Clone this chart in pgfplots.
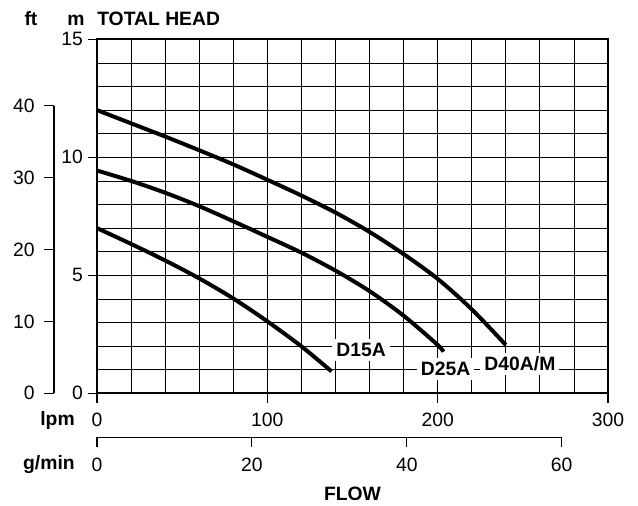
\documentclass[border=0pt]{standalone}
\usepackage{fontspec}
\setmainfont{Liberation Sans}
\usepackage{pgfplots}
\pgfplotsset{compat=1.18}
\begin{document}
\begin{tikzpicture}[x=1pt,y=1pt]
\begin{axis}[
  at={(0,0)}, anchor=south west,
  scale only axis, width=383.25pt, height=265.5pt,
  xmin=0,xmax=300,ymin=0,ymax=15,
  xtick={0,100,200,300}, ytick={0,5,10,15},
  minor xtick={0,20,...,300}, minor ytick={0,1,...,15},
  grid=minor, minor grid style={black, line width=0.6pt},
  major grid style={draw=none},
  major tick length=7pt, minor tick length=0pt,
  tick align=outside, xtick pos=bottom, ytick pos=left,
  tick style={black,line width=0.8pt},
  axis line style={line width=1.4pt},
  ticklabel style={font=\fontsize{14.5}{16}\selectfont},
  xticklabel style={yshift=-4.5pt},
  /pgf/number format/assume math mode=true,
  clip=false,
]
\addplot[black, line width=3pt, smooth, tension=0.5] coordinates {
(0,12.0)(20,11.44)(40,10.88)(60,10.3)(80,9.7)(100,9.05)(120,8.38)(140,7.66)(160,6.84)(180,5.9)(200,4.85)(220,3.56)(240,2.05)};
\addplot[black, line width=3pt, smooth, tension=0.5] coordinates {
(0,9.44)(20,9.0)(40,8.5)(60,7.93)(80,7.29)(100,6.63)(120,5.96)(140,5.2)(160,4.33)(180,3.29)(200,2.05)(203.3,1.76)};
\addplot[black, line width=3pt, smooth, tension=0.5] coordinates {
(0,7.0)(20,6.33)(40,5.63)(60,4.87)(80,4.02)(100,3.05)(120,1.99)(137.7,0.93)};
\node[fill=white, inner sep=3pt, font=\bfseries\fontsize{14.5}{16}\selectfont] at (axis cs:155,1.83) {D15A};
\node[fill=white, inner sep=3pt, font=\bfseries\fontsize{14.5}{16}\selectfont] at (axis cs:204.7,1.03) {D25A};
\node[fill=white, inner sep=3pt, font=\bfseries\fontsize{14.5}{16}\selectfont] at (axis cs:248.3,1.24) {D40A/M};
\end{axis}
% ft scale
\begin{axis}[
  at={(-32.25pt,0)}, anchor=south west,
  scale only axis, width=1pt, height=215.8pt,
  xmin=0,xmax=1,ymin=0,ymax=40,
  axis x line=none, axis y line=left,
  axis line style={line width=0.8pt,-},
  ytick={0,10,20,30,40},
  tick align=outside, major tick length=7.5pt,
  tick style={black,line width=0.8pt},
  ticklabel style={font=\fontsize{14.5}{16}\selectfont},
  yticklabel style={xshift=-3.5pt},
  /pgf/number format/assume math mode=true,
]
\end{axis}
% g/min scale
\begin{axis}[
  at={(0,-32.8pt)}, anchor=south west,
  scale only axis, width=348.5pt, height=1pt,
  xmin=0,xmax=60,ymin=0,ymax=1,
  axis y line=none, axis x line=bottom,
  axis line style={line width=0.8pt,-},
  xtick={0,20,40,60},
  tick align=outside, major tick length=7.5pt,
  tick style={black,line width=0.8pt},
  ticklabel style={font=\fontsize{14.5}{16}\selectfont},
  xticklabel style={yshift=-4.5pt},
  /pgf/number format/assume math mode=true,
]
\end{axis}
\begin{scope}[font=\bfseries\fontsize{14.5}{16}\selectfont]
\node[anchor=base, inner sep=0] at (-49.5,276.2) {ft};
\node[anchor=base, inner sep=0] at (-15.75,276.2) {m};
\node[anchor=base west, inner sep=0] at (0,276.2) {TOTAL HEAD};
\node[anchor=base east, inner sep=0] at (-16.5,-24.5) {lpm};
\node[anchor=base east, inner sep=0] at (-16.5,-57.2) {g/min};
\node[anchor=base, inner sep=0] at (191.6,-80.5) {FLOW};
\end{scope}
\pgfresetboundingbox
\useasboundingbox (-72.75pt,-83.8pt) rectangle (405.75pt,295pt);
\end{tikzpicture}
\end{document}
